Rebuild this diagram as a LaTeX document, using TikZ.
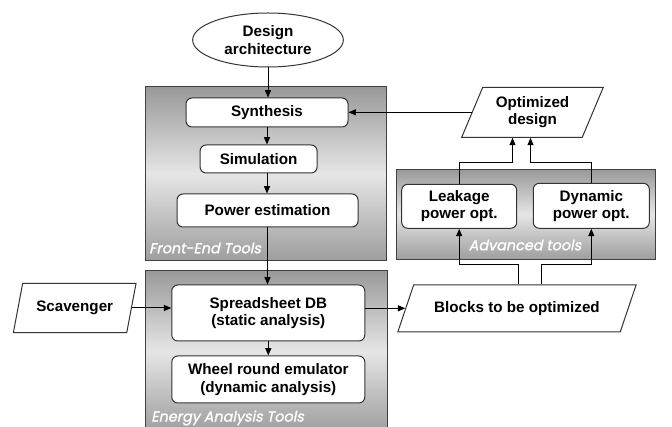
\documentclass[tikz,border=0pt]{standalone}
\usepackage{fontspec}
\setmainfont{Liberation Sans}
\newfontfamily\panelfont[FakeSlant=0.2, FakeBold=1.3]{Poppins}
\usetikzlibrary{shapes.geometric,arrows.meta,calc}

\tikzset{
	box/.style={draw=black!80, fill=white, rounded corners=4.5pt, line width=0.75pt,
		align=center, inner sep=0pt, font={\bfseries\fontsize{11.4}{13}\selectfont}},
	iobox/.style={trapezium, trapezium stretches body=true, draw=black!80, fill=white,
		line width=0.75pt, align=center, inner sep=0.5pt, font={\bfseries\fontsize{11.4}{13}\selectfont}},
	panel/.style={draw=black!75, line width=0.75pt, top color=black!40, bottom color=black!38, middle color=black!10},
	paneltext/.style={text=white, inner sep=0pt, font={\panelfont\fontsize{10.8}{12}\selectfont}},
	arr/.style={-{Triangle[length=5.5pt,width=4.5pt]}, line width=0.75pt}
}

\begin{document}
\begin{tikzpicture}[x=0.75pt,y=-0.75pt]
	\useasboundingbox (0,0) rectangle (672,427);
	% tool panels
	\draw[panel] (145,87) rectangle (386.5,260.5);
	\draw[panel] (145,270.5) rectangle (387.5,432);
	\draw[panel] (396.7,169.3) rectangle (655,259.3);
	\node[paneltext, anchor=west] (frontlbl) at (149,248) {Front-End Tools};
	\node[paneltext, anchor=west] (energylbl) at (151,418) {Energy Analysis Tools};
	\node[paneltext] (advlbl) at (525,245) {Advanced tools};

	% flow boxes
	\node[box, ellipse, rounded corners=0pt, minimum width=113pt, minimum height=40.5pt] (arch) at (268,40) {Design\\architecture};
	\node[box, minimum width=121.5pt, minimum height=21.75pt] (syn) at (267,112.5) {Synthesis};
	\node[box, minimum width=87.75pt, minimum height=21pt] (sim) at (258.6,159) {Simulation};
	\node[box, minimum width=135.75pt, minimum height=24.75pt] (pow) at (267.5,210.5) {Power estimation};
	\node[box, minimum width=144.75pt, minimum height=42pt] (spread) at (268.3,313) {Spreadsheet DB\\(static analysis)};
	\node[box, minimum width=144.75pt, minimum height=35.25pt] (wheel) at (268.3,379.5) {Wheel round emulator\\(dynamic analysis)};
	\node[box, minimum width=86.25pt, minimum height=33pt] (leak) at (459.2,206.3) {Leakage\\power opt.};
	\node[box, minimum width=87pt, minimum height=33.75pt] (dyn) at (591.3,205.8) {Dynamic\\power opt.};

	% inputs and outputs
	\node[iobox, trapezium left angle=58.5, trapezium right angle=121.5, minimum width=92pt, minimum height=37pt] (scav) at (74.7,308) {\makebox[30pt][c]{Scavenger}};
	\node[iobox, trapezium left angle=57.4, trapezium right angle=122.6, minimum width=106.2pt, minimum height=37.5pt] (opt) at (532.5,112.3) {\makebox[50pt][c]{Optimized}\\design};
	\node[iobox, trapezium left angle=44.4, trapezium right angle=135.6, minimum width=178.7pt, minimum height=35.2pt] (blocks) at (517,308.3) {\makebox[90pt][c]{Blocks to be optimized}};

	% connectors
	\draw[arr] (arch.south) -- (syn.north -| arch.south);
	\draw[arr] (syn.south) -- (sim.north -| syn.south);
	\draw[arr] (sim.south -| syn.south) -- (pow.north -| syn.south);
	\draw[arr] (pow.south) -- (spread.north -| pow.south);
	\draw[arr] (spread.south) -- (wheel.north);
	\draw[arr] (scav.east) -- (scav.east -| spread.west);
	\draw[arr] (blocks.west -| spread.east) -- (blocks.west);
	\draw[arr] (opt.west) -- (opt.west -| syn.east);
	\draw[arr] (leak.north) |- ($(opt.south)+(-20,24.5)$) -- ($(opt.south)+(-20,0)$);
	\draw[arr] (dyn.north) |- ($(opt.south)+(-2,24.5)$) -- ($(opt.south)+(-2,0)$);
	\draw[arr] ($(blocks.north)+(1,0)$) |- ($(leak.south)+(0,36)$) -- (leak.south);
	\draw[arr] ($(blocks.north)+(24,0)$) |- ($(dyn.south)+(0,36)$) -- (dyn.south);
\end{tikzpicture}
\end{document}
